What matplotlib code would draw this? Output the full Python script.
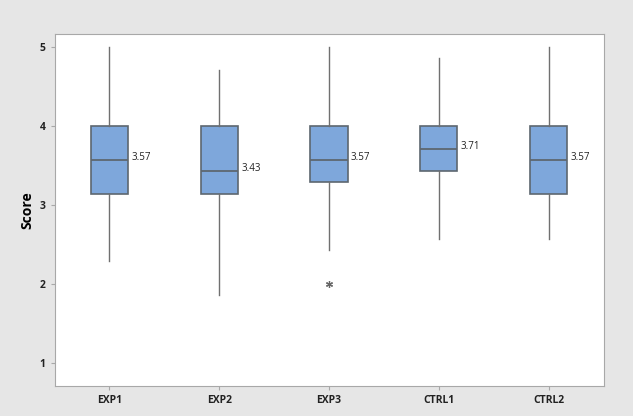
import matplotlib
matplotlib.use("Agg")
import matplotlib.pyplot as plt

plt.rcParams['font.family'] = ['Open Sans', 'DejaVu Sans']

# Group data (Minitab style boxplot summary)
groups = ["EXP1", "EXP2", "EXP3", "CTRL1", "CTRL2"]
q1 = [3.14, 3.14, 3.29, 3.43, 3.14]
med = [3.57, 3.43, 3.57, 3.71, 3.57]
q3 = [4.0, 4.0, 4.0, 4.0, 4.0]
whislo = [2.29, 1.86, 2.43, 2.57, 2.57]
whishi = [5.0, 4.71, 5.0, 4.86, 5.0]
outliers = [[], [], [2.0], [], []]

stats = []
for i in range(len(groups)):
    stats.append(dict(label=groups[i], q1=q1[i], med=med[i], q3=q3[i],
                      whislo=whislo[i], whishi=whishi[i], fliers=outliers[i]))

fig = plt.figure(figsize=(6.33, 4.16), dpi=100)
fig.patch.set_facecolor('#e6e6e6')
ax = fig.add_axes([54.6/633, 1 - 386/416, (603.5-54.6)/633, (386-34)/416])

edge = '#5d6770'
ax.bxp(stats, positions=range(1, 6), widths=0.34, patch_artist=True,
       showcaps=False,
       boxprops=dict(facecolor='#7ea7db', edgecolor=edge, linewidth=1.2),
       medianprops=dict(color=edge, linewidth=1.3),
       whiskerprops=dict(color='#707070', linewidth=1.0),
       flierprops=dict(marker=(6, 2, 0), markersize=5, markeredgewidth=0.9,
                       markeredgecolor='#666666', linestyle='none'))

# median labels
for i, m in enumerate(med):
    ax.text(i + 1 + 0.2, m + 0.03, f"{m:.2f}", fontsize=7, color='#222222',
            va='center', ha='left')

ax.set_xlim(0.5, 5.5)
ax.set_ylim(0.71, 5.16)
ax.set_yticks([1, 2, 3, 4, 5])
ax.set_ylabel("Score", fontsize=10, fontweight='bold', labelpad=4)

for s in ax.spines.values():
    s.set_color('#a8a8a8')
ax.tick_params(axis='both', colors='#a8a8a8', length=3, width=0.8,
               labelcolor='#222222', labelsize=7.5)
for lab in ax.get_xticklabels() + ax.get_yticklabels():
    lab.set_fontweight('bold')

fig.savefig("out.png", dpi=100, facecolor=fig.get_facecolor())
